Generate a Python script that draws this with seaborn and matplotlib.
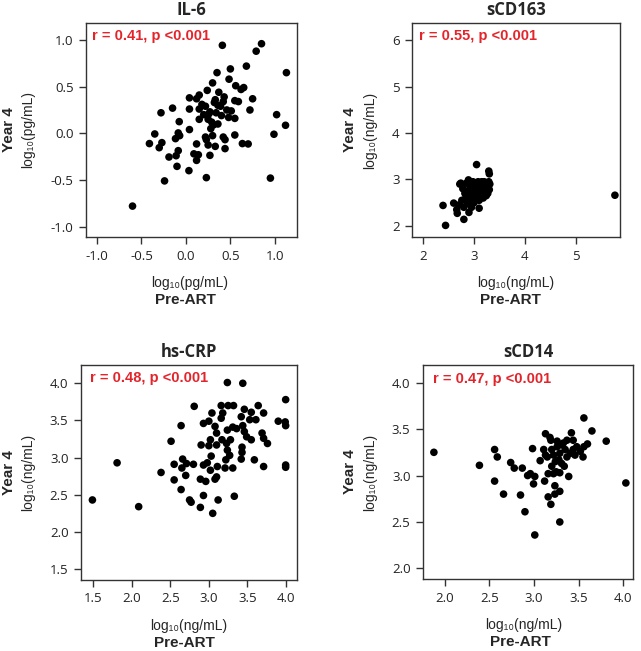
import matplotlib
matplotlib.use("Agg")
import matplotlib.pyplot as plt
import pandas as pd
import seaborn as sns

# IL-6 (log10 pg/mL)
il6_pre = [0.41, 0.85, 0.79, 0.68, 1.13, 0.35, 0.50, 0.485, 0.30, 0.56, 0.65, 0.62, 0.24, 0.37,
           0.15, 0.04, 0.12, 0.33, 0.43, 0.75, 0.55, 0.59, 0.42, 0.39, 0.22, 0.15, 0.04, -0.15,
           -0.28, 0.72, 0.46, 0.51, 0.27, 0.34, 0.20, 1.02, 0.48, 0.55, 0.15, 0.25, 0.29, -0.075,
           0.36, 1.12, 0.31, 0.04, -0.35, -0.086, -0.07, 0.99, 0.55, 0.30, 0.22, 0.42, -0.117,
           -0.41, -0.27, 0.23, 0.12, 0.25, 0.33, 0.44, 0.635, 0.70, -0.30, -0.086, 0.44, 0.09,
           0.14, 0.27, -0.19, -0.11, 0.12, -0.10, 0.034, 0.23, 0.95, -0.24, -0.60,
           0.18, 0.36, 0.40, 0.26, 0.32, 0.28]
il6_y4 = [0.943, 0.96, 0.88, 0.72, 0.65, 0.65, 0.69, 0.58, 0.54, 0.51, 0.49, 0.47, 0.46, 0.44,
          0.41, 0.38, 0.37, 0.36, 0.39, 0.37, 0.35, 0.34, 0.34, 0.29, 0.29, 0.26, 0.26, 0.27,
          0.22, 0.25, 0.25, 0.24, 0.23, 0.22, 0.20, 0.20, 0.17, 0.16, 0.15, 0.15, 0.12, 0.125,
          0.10, 0.086, 0.09, 0.04, -0.007, 0.004, -0.025, -0.01, -0.018, -0.025, -0.04, -0.04,
          -0.057, -0.11, -0.10, -0.068, -0.114, -0.125, -0.14, -0.068, -0.11, -0.114, -0.154,
          -0.186, -0.164, -0.22, -0.23, -0.236, -0.254, -0.24, -0.29, -0.354, -0.40, -0.475,
          -0.48, -0.51, -0.78,
          0.31, 0.30, 0.19, 0.21, 0.33, 0.05]

# sCD163 (log10 ng/mL)
scd163_pre = [2.72, 2.78, 2.82, 2.85, 2.88, 2.90, 2.92, 2.95, 2.97, 3.00, 3.02, 3.05, 3.07, 3.10,
              3.12, 3.15, 3.18, 3.20, 3.22, 3.25, 3.28, 3.30, 3.27, 3.24, 3.18, 3.12, 3.05, 2.98,
              2.93, 2.87, 2.80, 2.76, 2.70, 2.66, 2.95, 3.00, 3.03, 3.08, 3.14, 3.20, 3.29, 3.31,
              2.85, 2.93, 3.00, 3.10, 3.16, 2.98, 3.22, 2.83, 2.90, 3.06, 2.96, 3.26, 3.13,
              2.39, 2.44, 5.77, 3.05, 3.29, 3.30, 2.80, 3.10, 2.90, 2.60, 2.67, 2.74, 2.89]
scd163_y4 = [2.90, 2.80, 2.70, 2.62, 2.75, 2.95, 2.85, 2.72, 2.60, 2.80, 2.90, 2.70, 2.62, 2.85,
             2.78, 2.95, 2.88, 2.72, 2.80, 2.92, 2.85, 2.78, 2.70, 2.65, 2.60, 2.68, 2.85, 2.95,
             2.55, 2.48, 2.40, 2.55, 2.45, 2.35, 2.40, 2.50, 2.58, 2.95, 2.90, 2.95, 2.95, 2.90,
             2.92, 2.68, 2.65, 2.55, 2.75, 2.78, 2.85, 2.58, 2.62, 2.78, 2.88, 2.78, 2.82,
             2.44, 2.01, 2.66, 3.32, 3.18, 3.12, 2.14, 2.38, 2.29, 2.49, 2.27, 2.92, 2.99]

# hs-CRP (log10 ng/mL)
crp_pre = [1.49, 1.81, 2.09, 2.38, 2.51, 2.64, 2.81, 3.24, 3.44, 3.996, 2.55, 2.55, 2.66, 2.71,
           2.80, 2.70, 2.64, 2.75, 2.77, 2.89, 2.93, 3.05, 3.12, 3.33, 2.89, 2.96, 3.08, 3.10,
           2.93, 2.98, 3.03, 3.11, 3.21, 3.31, 2.90, 3.00, 3.10, 2.93, 3.00, 3.04, 3.08, 3.10,
           3.16, 3.16, 3.25, 3.32, 3.18, 3.24, 3.23, 3.28, 3.27, 3.22, 3.31, 3.42, 3.46, 3.55,
           3.64, 3.71, 3.61, 3.36, 3.46, 3.49, 3.55, 3.43, 3.43, 3.42, 3.59, 3.69, 3.71, 3.76,
           3.71, 3.90, 3.99, 3.996, 3.996, 3.996, 3.02, 3.17, 3.24, 3.53, 3.44, 3.02, 2.65]
crp_y4 = [2.43, 2.93, 2.34, 2.80, 3.22, 3.43, 3.69, 4.01, 4.00, 3.78, 2.91, 2.70, 2.98, 2.92,
          2.91, 2.76, 2.57, 2.43, 2.40, 2.33, 2.49, 2.25, 2.43, 2.48, 2.71, 2.68, 2.71, 2.74,
          2.90, 2.93, 3.02, 2.88, 2.86, 2.86, 3.17, 3.16, 3.17, 3.46, 3.49, 3.60, 3.42, 3.33,
          3.53, 3.70, 3.70, 3.70, 3.60, 3.10, 3.19, 3.24, 3.03, 2.97, 3.41, 3.55, 3.65, 3.61,
          3.70, 3.60, 3.51, 3.39, 3.35, 3.28, 3.24, 3.14, 3.07, 2.98, 2.97, 3.33, 3.26, 3.19,
          2.88, 3.49, 3.48, 3.43, 2.90, 2.87, 3.24, 3.24, 3.37, 3.51, 3.43, 2.83, 2.86]

# sCD14 (log10 ng/mL)
scd14_pre = [1.88, 2.39, 2.56, 2.59, 2.56, 2.66, 2.74, 2.78, 2.87, 2.85, 2.90, 2.93, 2.96, 2.996,
             3.01, 2.985, 3.01, 3.07, 3.12, 3.16, 3.19, 3.235, 3.235, 3.29, 3.29, 3.16, 3.22,
             3.29, 3.34, 3.39, 3.13, 3.18, 3.19, 3.11, 3.15, 3.20, 3.26, 3.29, 3.33, 3.37, 3.42,
             3.44, 3.48, 3.41, 3.55, 3.56, 3.60, 3.56, 3.65, 3.81, 3.24, 3.28, 3.22, 3.26, 3.35,
             3.44, 3.37, 3.31, 3.52, 3.20, 3.25, 3.13, 3.46, 3.31, 4.03]
scd14_y4 = [3.25, 3.11, 3.28, 3.20, 2.94, 2.80, 3.14, 3.08, 3.08, 2.79, 2.61, 3.00, 3.02, 2.91,
            2.99, 3.29, 2.36, 3.16, 2.94, 2.77, 2.69, 2.80, 2.89, 2.83, 2.50, 3.02, 3.02, 3.03,
            3.10, 2.99, 3.45, 3.41, 3.38, 3.28, 3.20, 3.28, 3.31, 3.24, 3.35, 3.38, 3.46, 3.38,
            3.31, 3.24, 3.20, 3.31, 3.34, 3.62, 3.48, 3.37, 3.15, 3.17, 3.22, 3.37, 3.28, 3.28,
            3.20, 3.13, 3.26, 3.10, 3.04, 3.22, 3.22, 3.33, 2.92]

sns.set_theme(style="ticks")
plt.rcParams["font.family"] = ["Open Sans", "DejaVu Sans"]
plt.rcParams["axes.unicode_minus"] = False

W, H = 641, 651
fig = plt.figure(figsize=(W / 100, H / 100), dpi=100)

panels = [
    dict(title="IL-6", x=il6_pre, y=il6_y4, unit="log\u2081\u2080(pg/mL)", r="r = 0.41, p <0.001",
         box=(86, 297, 23, 237), xlim=(-1.123, 1.249), ylim=(-1.111, 1.182),
         xt=[-1.0, -0.5, 0.0, 0.5, 1.0], yt=[-1.0, -0.5, 0.0, 0.5, 1.0], fmt="{:.1f}",
         ylab_x=(9, 28), xlab_x=(190, 185), rpos=(92, 36)),
    dict(title="sCD163", x=scd163_pre, y=scd163_y4, unit="log\u2081\u2080(ng/mL)", r="r = 0.55, p <0.001",
         box=(412, 620, 23, 237), xlim=(1.78, 5.87), ylim=(1.76, 6.37),
         xt=[2, 3, 4, 5], yt=[2, 3, 4, 5, 6], fmt="{:.0f}",
         ylab_x=(350, 370), xlab_x=(516, 510), rpos=(419, 36)),
    dict(title="hs-CRP", x=crp_pre, y=crp_y4, unit="log\u2081\u2080(ng/mL)", r="r = 0.48, p <0.001",
         box=(81, 297, 365, 580), xlim=(1.342, 4.143), ylim=(1.353, 4.246),
         xt=[1.5, 2.0, 2.5, 3.0, 3.5, 4.0], yt=[1.5, 2.0, 2.5, 3.0, 3.5, 4.0], fmt="{:.1f}",
         ylab_x=(9, 28), xlab_x=(189, 184), rpos=(90, 378)),
    dict(title="sCD14", x=scd14_pre, y=scd14_y4, unit="log\u2081\u2080(ng/mL)", r="r = 0.47, p <0.001",
         box=(423, 633, 365, 579), xlim=(1.758, 4.11), ylim=(1.886, 4.19),
         xt=[2.0, 2.5, 3.0, 3.5, 4.0], yt=[2.0, 2.5, 3.0, 3.5, 4.0], fmt="{:.1f}",
         ylab_x=(350, 370), xlab_x=(524, 520), rpos=(433, 379)),
]

def fx(px):
    return px / W

def fy(py):
    return 1 - py / H

for p in panels:
    l, r, t, b = p["box"]
    ax = fig.add_axes([fx(l), fy(b), (r - l) / W, (b - t) / H])
    df = pd.DataFrame({"pre": p["x"], "y4": p["y"]})
    sns.scatterplot(data=df, x="pre", y="y4", ax=ax, color="black", s=30,
                    edgecolor="none", linewidth=0)
    ax.set_xlim(*p["xlim"])
    ax.set_ylim(*p["ylim"])
    ax.set_xticks(p["xt"])
    ax.set_yticks(p["yt"])
    ax.set_xticklabels([p["fmt"].format(v) for v in p["xt"]])
    ax.set_yticklabels([p["fmt"].format(v) for v in p["yt"]])
    ax.set_xlabel("")
    ax.set_ylabel("")
    ax.tick_params(direction="out", length=5, width=1, color="#333333",
                   labelsize=9.5, labelcolor="#222222", pad=4)
    for s in ax.spines.values():
        s.set_visible(True)
        s.set_color("#333333")
        s.set_linewidth(1)

    cx = (l + r) / 2
    fig.text(fx(cx), fy(t - 13), p["title"], ha="center", va="center",
             fontsize=12, fontweight="bold", family=["Open Sans", "DejaVu Sans"])
    fig.text(fx(p["rpos"][0]), fy(p["rpos"][1]), p["r"], ha="left", va="center",
             fontsize=10.5, fontweight="bold", color="#e3242b",
             family=["Liberation Sans Narrow", "Liberation Sans", "DejaVu Sans"])
    cy = (t + b) / 2
    fig.text(fx(p["ylab_x"][0]), fy(cy), "Year 4", rotation=90, ha="center", va="center",
             fontsize=11, fontweight="bold", family=["Liberation Sans", "DejaVu Sans"])
    fig.text(fx(p["ylab_x"][1]), fy(cy), p["unit"], rotation=90, ha="center", va="center",
             fontsize=10, family=["Liberation Sans", "DejaVu Sans"])
    fig.text(fx(p["xlab_x"][0]), fy(b + 46), p["unit"], ha="center", va="center",
             fontsize=10, family=["Liberation Sans", "DejaVu Sans"])
    fig.text(fx(p["xlab_x"][1]), fy(b + 63), "Pre-ART", ha="center", va="center",
             fontsize=11, fontweight="bold", family=["Liberation Sans", "DejaVu Sans"])

fig.savefig("out.png", dpi=100, facecolor="white")
